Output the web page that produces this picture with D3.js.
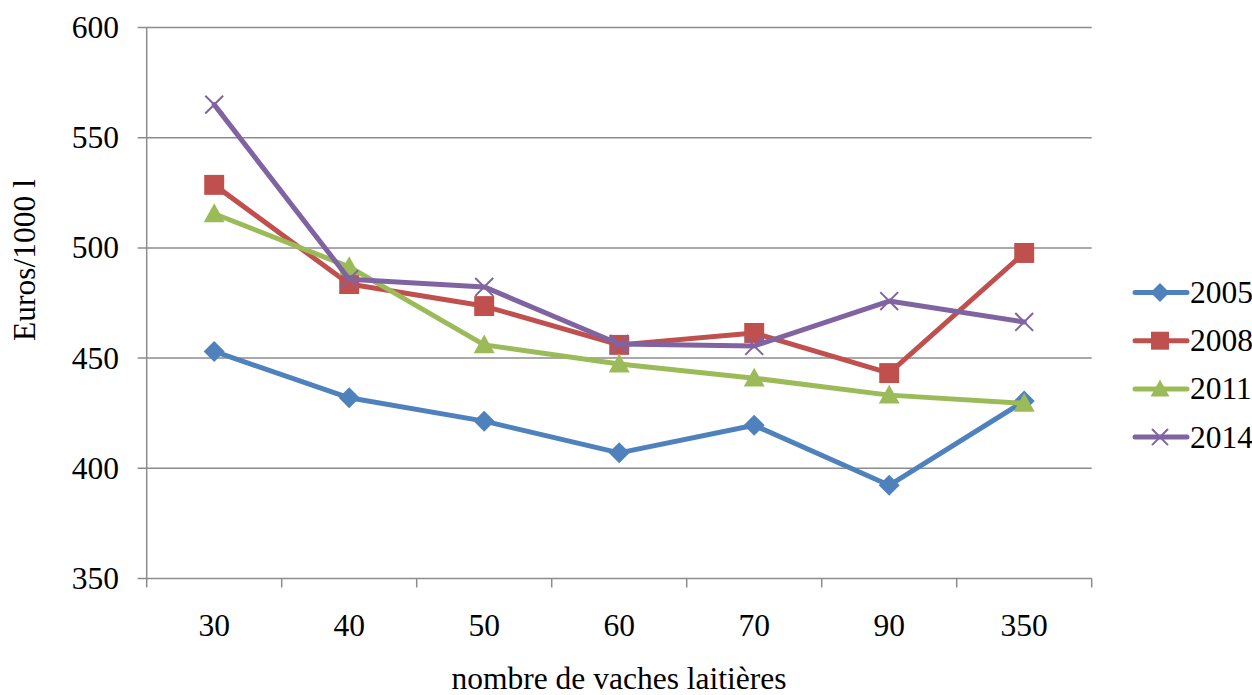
<!DOCTYPE html>
<html><head><meta charset="utf-8">
<script src="https://cdn.jsdelivr.net/npm/d3@7"></script>
<style>body{margin:0;background:#fff}svg{display:block}text{font-family:"Liberation Serif","Times New Roman",serif}</style>
</head><body>
<svg id="c" width="1252" height="695"></svg>
<script>
const categories = ["30","40","50","60","70","90","350"];
const seriesNames = ["2005","2008","2011","2014"];
const s2005 = [453, 432, 421.4, 407, 419.5, 392.3, 430.5];
const s2008 = [528.6, 483.6, 473.6, 456, 461.4, 443.2, 497.7];
const s2011 = [515.5, 491.4, 456, 447.3, 440.9, 433.2, 429.5];
const s2014 = [565, 485.8, 482.3, 456.4, 455.5, 475.9, 466.4];
const yTicks = [350, 400, 450, 500, 550, 600];
const colors = ["#4F81BD", "#C0504D", "#9BBB59", "#8064A2"];
const markers = ["diamond", "square", "triangle", "x"];
const allSeries = [s2005, s2008, s2011, s2014];

const svg = d3.select("#c");
const fs = 31.5;
const L = 146.7, R = 1091.7, T = 27.5, B = 578.5;
const x = d3.scaleBand().domain(categories).range([L, R]);
const y = d3.scaleLinear().domain([350, 600]).range([B, T]);

// gridlines
svg.append("g").selectAll("line").data(yTicks).join("line")
  .attr("x1", L - 9).attr("x2", R).attr("y1", d => y(d)).attr("y2", d => y(d))
  .attr("stroke", "#8c8c8c").attr("stroke-width", 1.5);

// y axis line
svg.append("line").attr("x1", L).attr("x2", L).attr("y1", T).attr("y2", B)
  .attr("stroke", "#8c8c8c").attr("stroke-width", 1.5);

// x ticks
const xb = categories.map(c => x(c)).concat([R]);
svg.append("g").selectAll("line").data(xb).join("line")
  .attr("x1", d => d).attr("x2", d => d).attr("y1", B).attr("y2", B + 9)
  .attr("stroke", "#8c8c8c").attr("stroke-width", 1.5);

// y labels
svg.append("g").selectAll("text").data(yTicks).join("text")
  .attr("x", 119).attr("y", d => y(d) + 10.5).attr("text-anchor", "end")
  .attr("font-size", fs).text(d => d);

// x labels
svg.append("g").selectAll("text").data(categories).join("text")
  .attr("x", d => x(d) + x.bandwidth() / 2).attr("y", 636).attr("text-anchor", "middle")
  .attr("font-size", fs).text(d => d);

svg.append("text").attr("x", 619).attr("y", 689).attr("text-anchor", "middle")
  .attr("font-size", fs).text("nombre de vaches laitières");

svg.append("text").attr("transform", "translate(35,260) rotate(-90)").attr("text-anchor", "middle")
  .attr("font-size", fs).text("Euros/1000 l");

function drawMarker(g, type, cx, cy, color, sc) {
  const r = 10.5 * sc;
  if (type === "diamond") {
    g.append("path").attr("d", `M${cx},${cy-r}L${cx+r},${cy}L${cx},${cy+r}L${cx-r},${cy}Z`).attr("fill", color);
  } else if (type === "square") {
    g.append("rect").attr("x", cx - r * 0.95).attr("y", cy - r * 0.95).attr("width", r * 1.9).attr("height", r * 1.9).attr("fill", color);
  } else if (type === "triangle") {
    g.append("path").attr("d", `M${cx},${cy-r}L${cx+r},${cy+r*0.8}L${cx-r},${cy+r*0.8}Z`).attr("fill", color);
  } else {
    const q = r * 0.85;
    g.append("path").attr("d", `M${cx-q},${cy-q}L${cx+q},${cy+q}M${cx+q},${cy-q}L${cx-q},${cy+q}`)
      .attr("stroke", color).attr("stroke-width", 2).attr("fill", "none");
  }
}

const line = d3.line().x((d, i) => x(categories[i]) + x.bandwidth() / 2).y(d => y(d));
allSeries.forEach((s, k) => {
  const g = svg.append("g");
  g.append("path").attr("d", line(s)).attr("fill", "none").attr("stroke", colors[k])
    .attr("stroke-width", 5).attr("stroke-linejoin", "round").attr("stroke-linecap", "round");
  s.forEach((v, i) => drawMarker(g, markers[k], x(categories[i]) + x.bandwidth() / 2, y(v), colors[k], 1));
});

// legend
seriesNames.forEach((n, k) => {
  const ly = 292.5 + k * 48.2;
  const g = svg.append("g");
  g.append("line").attr("x1", 1135).attr("x2", 1187).attr("y1", ly).attr("y2", ly)
    .attr("stroke", colors[k]).attr("stroke-width", 5).attr("stroke-linecap", "round");
  drawMarker(g, markers[k], 1160, ly, colors[k], 0.9);
  g.append("text").attr("x", 1190).attr("y", ly + 10.5).attr("font-size", fs).text(n);
});
</script>
</body></html>
